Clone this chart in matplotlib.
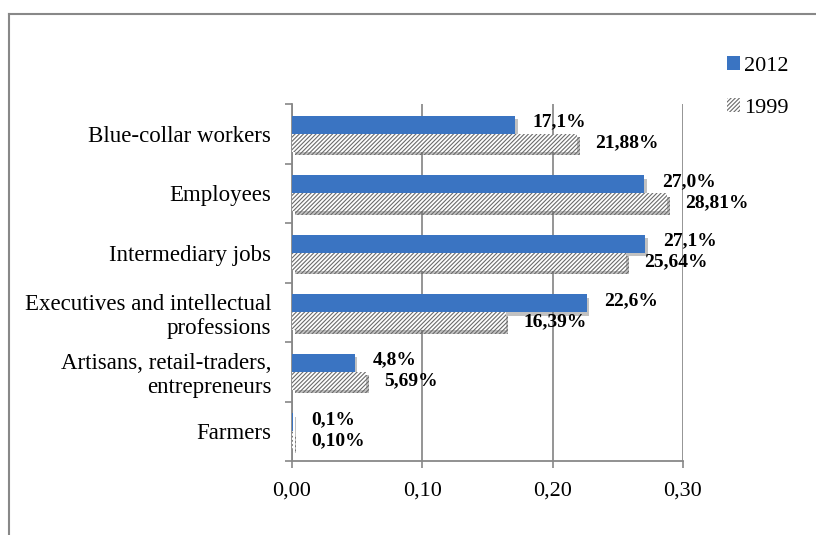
import matplotlib
matplotlib.use("Agg")
import matplotlib.pyplot as plt
import matplotlib.patheffects as pe
from matplotlib.patches import Patch
from matplotlib.ticker import FuncFormatter, FixedLocator
from matplotlib.lines import Line2D
import numpy as np

categories = ["Blue-collar workers", "Employees", "Intermediary jobs",
              "Executives and intellectual\nprofessions",
              "Artisans, retail-traders,\nentrepreneurs", "Farmers"]
v2012 = [0.171, 0.270, 0.271, 0.226, 0.048, 0.001]
v1999 = [0.2188, 0.2881, 0.2564, 0.1639, 0.0569, 0.0010]
lab2012 = ["17,1%", "27,0%", "27,1%", "22,6%", "4,8%", "0,1%"]
lab1999 = ["21,88%", "28,81%", "25,64%", "16,39%", "5,69%", "0,10%"]

plt.rcParams['font.family'] = ['Liberation Serif', 'DejaVu Serif']
plt.rcParams['hatch.linewidth'] = 0.8

fig = plt.figure(figsize=(8.16, 5.35), dpi=100)
ax = fig.add_axes([292/816, 1-461/535, (683-292)/816, (461-104)/535])

y = np.arange(len(categories))
h = 0.305
shadow = [pe.SimplePatchShadow(offset=(2, -2.5), shadow_rgbFace='#777777', alpha=0.45), pe.Normal()]

b1 = ax.barh(y - h/2, v2012, height=h, color='#3a74c2', edgecolor='none', zorder=3)
b2 = ax.barh(y + h/2, v1999, height=h, color='white', edgecolor='#6a6a6a',
             linewidth=0, hatch='////////', zorder=3)
for b in list(b1) + list(b2):
    b.set_path_effects(shadow)

for i in range(len(categories)):
    ax.annotate(lab2012[i], (v2012[i], y[i] - h/2), xytext=(13, 2), textcoords='offset points',
                ha='left', va='center', fontsize=14, fontweight='bold', zorder=5)
    ax.annotate(lab1999[i], (v1999[i], y[i] + h/2), xytext=(13, 0), textcoords='offset points',
                ha='left', va='center', fontsize=14, fontweight='bold', zorder=5)

ax.set_xlim(0, 0.30)
ax.set_ylim(len(categories) - 0.5, -0.5)
ax.set_xticks([0, 0.1, 0.2, 0.3])
ax.xaxis.set_major_formatter(FuncFormatter(lambda v, p: f"{v:.2f}".replace('.', ',')))
ax.set_yticks(y)
ax.set_yticklabels(categories)
ax.yaxis.set_minor_locator(FixedLocator(np.arange(-0.5, len(categories), 1)))
ax.tick_params(axis='y', which='major', length=0, pad=15, labelsize=16.5)
ax.tick_params(axis='y', which='minor', length=5, width=1.2, color='#888888')
ax.tick_params(axis='x', which='major', length=5, width=1.2, color='#888888', pad=10, labelsize=16)

ax.grid(axis='x', color='#8c8c8c', linewidth=1.3, zorder=0)
for s in ['top', 'right']:
    ax.spines[s].set_visible(False)
for s in ['left', 'bottom']:
    ax.spines[s].set_color('#888888')
    ax.spines[s].set_linewidth(1.3)

handles = [Patch(facecolor='#3a74c2', edgecolor='none', label='2012'),
           Patch(facecolor='white', edgecolor='#6a6a6a', linewidth=0, hatch='////////', label='1999')]
fig.legend(handles=handles, loc='upper left', bbox_to_anchor=(707/816, 1-36/535),
           frameon=False, fontsize=16, handlelength=0.6, handleheight=0.6,
           handletextpad=0.15, labelspacing=1.0)

# outer chart frame
fig.add_artist(Line2D([9/816, 1], [1-14/535, 1-14/535], transform=fig.transFigure, color='#888888', lw=1.5))
fig.add_artist(Line2D([9/816, 9/816], [0, 1-14/535], transform=fig.transFigure, color='#888888', lw=1.5))

fig.savefig("out.png", dpi=100)
